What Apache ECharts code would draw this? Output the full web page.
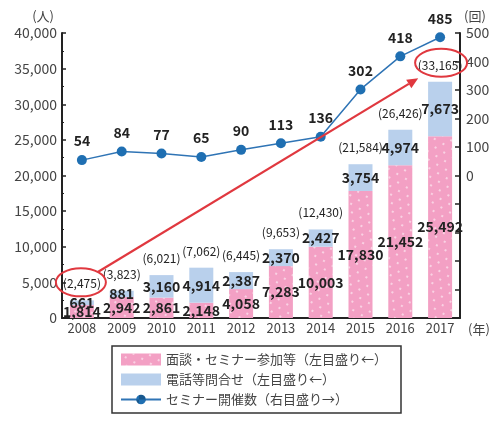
<!DOCTYPE html>
<html><head><meta charset="utf-8">
<script src="https://cdn.jsdelivr.net/npm/echarts@6/dist/echarts.min.js"></script>
<style>html,body{margin:0;padding:0;background:#fff}#c{width:500px;height:438px}</style>
</head><body><div id="c"></div>
<script>
const years = ['2008','2009','2010','2011','2012','2013','2014','2015','2016','2017'];
const interviewSeminar = [1814, 2942, 2861, 2148, 4058, 7283, 10003, 17830, 21452, 25492];
const phoneInquiry = [661, 881, 3160, 4914, 2387, 2370, 2427, 3754, 4974, 7673];
const seminarCount = [54, 84, 77, 65, 90, 113, 136, 302, 418, 485];
const totals = interviewSeminar.map((v, i) => v + phoneInquiry[i]);

const FONT = '"Noto Sans CJK JP", "Noto Sans", sans-serif';
const fmt = v => Number(v).toLocaleString('en-US');

const chart = echarts.init(document.getElementById('c'), null, {renderer: 'canvas'});
chart.setOption({
  animation: false,
  aria: {enabled: true, decal: {show: true}},
  textStyle: {fontFamily: FONT, color: '#333'},
  grid: {left: 62, right: 40, top: 33, bottom: 120, containLabel: false},
  legend: {
    data: [
      {name: '面談・セミナー参加等（左目盛り←）', icon: 'rect'},
      {name: '電話等問合せ（左目盛り←）', icon: 'rect'},
      {name: 'セミナー開催数（右目盛り→）'}
    ],
    orient: 'vertical', left: 112, top: 346,
    itemWidth: 40, itemHeight: 12, itemGap: 7,
    padding: [7, 14, 7, 8],
    borderColor: '#333', borderWidth: 1.5,
    textStyle: {fontSize: 13, color: '#444', fontFamily: FONT}
  },
  xAxis: {
    type: 'category', data: years,
    name: '(年)', nameLocation: 'end', nameGap: 8,
    nameTextStyle: {fontSize: 13, color: '#444', verticalAlign: 'top', padding: [5, 0, 0, 0]},
    axisLine: {lineStyle: {color: '#222', width: 2}},
    axisTick: {show: false},
    axisLabel: {interval: 0, fontSize: 13, color: '#444', margin: 4}
  },
  yAxis: [
    {
      type: 'value', min: 0, max: 40000, interval: 5000,
      name: '(人)', nameGap: 10,
      nameTextStyle: {fontSize: 13, color: '#444', align: 'right', padding: [0, 8, 0, 0]},
      axisLine: {show: true, lineStyle: {color: '#222', width: 2}},
      axisTick: {show: true, inside: true, length: 4, lineStyle: {color: '#222', width: 1.5}},
      minorTick: {show: true, splitNumber: 2, length: 2, lineStyle: {color: '#222'}},
      splitLine: {show: false},
      axisLabel: {fontSize: 14, color: '#444', margin: 5, formatter: v => fmt(v)}
    },
    {
      type: 'value', min: -500, max: 500, interval: 100, position: 'right',
      name: '(回)', nameGap: 10,
      nameTextStyle: {fontSize: 13, color: '#444', align: 'left', padding: [0, 0, 0, 4]},
      axisLine: {show: true, lineStyle: {color: '#222', width: 2}},
      axisTick: {show: true, inside: true, length: 5, lineStyle: {color: '#222', width: 1.5}},
      splitLine: {show: false},
      axisLabel: {fontSize: 14, color: '#444', margin: 6, formatter: v => (v >= 0 ? String(v) : '')}
    }
  ],
  series: [
    {
      name: '面談・セミナー参加等（左目盛り←）', type: 'bar', stack: 'a', yAxisIndex: 0,
      data: interviewSeminar, barWidth: 24,
      itemStyle: {
        color: '#f3a0c4',
        decal: {symbol: 'circle', symbolSize: 1, color: 'rgba(255,255,255,0.7)',
                dashArrayX: [[2, 8], [0, 5, 2, 3]], dashArrayY: [2, 5]}
      },
      label: {show: true, position: 'inside', fontSize: 14, fontWeight: 'bold', color: '#222',
              formatter: p => fmt(p.value)},
      z: 2
    },
    {
      name: '電話等問合せ（左目盛り←）', type: 'bar', stack: 'a', yAxisIndex: 0,
      data: phoneInquiry, barWidth: 24,
      itemStyle: {color: '#b9d0ec', decal: {symbol: 'none'}},
      label: {show: true, position: 'inside', fontSize: 14, fontWeight: 'bold', color: '#222',
              formatter: p => fmt(p.value)},
      z: 2
    },
    {
      name: 'totals', type: 'scatter', yAxisIndex: 0, data: totals,
      symbolSize: 1, itemStyle: {color: 'rgba(0,0,0,0)', opacity: 1, decal: {symbol: 'none'}},
      label: {show: true, position: 'top', distance: 10, fontSize: 12, color: '#222',
              formatter: p => '(' + fmt(p.value) + ')'},
      silent: true, z: 3
    },
    {
      name: 'セミナー開催数（右目盛り→）', type: 'line', yAxisIndex: 1, data: seminarCount,
      symbol: 'circle', symbolSize: 10,
      lineStyle: {color: '#2f74b5', width: 1.5},
      itemStyle: {color: '#1f6fb2'},
      label: {show: true, position: 'top', distance: 7, fontSize: 14, fontWeight: 'bold', color: '#222'},
      z: 5
    }
  ]
});

// red ellipses around first and last totals and an arrow between them
function drawHighlight() {
  const first = chart.convertToPixel({xAxisIndex: 0, yAxisIndex: 0}, [years[0], totals[0]]);
  const last = chart.convertToPixel({xAxisIndex: 0, yAxisIndex: 0}, [years[years.length - 1], totals[totals.length - 1]]);
  const c1 = [first[0] - 1, first[1] - 18];
  const c2 = [last[0] + 1, last[1] - 19];
  const rx1 = 25, ry1 = 14, rx2 = 26, ry2 = 14;
  const dx = c2[0] - c1[0], dy = c2[1] - c1[1];
  const L = Math.hypot(dx, dy), ux = dx / L, uy = dy / L;
  const s1 = 1 / Math.sqrt((ux / rx1) ** 2 + (uy / ry1) ** 2);
  const s2 = 1 / Math.sqrt((ux / rx2) ** 2 + (uy / ry2) ** 2);
  const p1 = [c1[0] + ux * s1, c1[1] + uy * s1];
  const tip = [c2[0] - ux * (s2 + 2) - 4, c2[1] - uy * (s2 + 2) + 4];
  const ax = tip[0] - p1[0], ay = tip[1] - p1[1];
  const al = Math.hypot(ax, ay), vx = ax / al, vy = ay / al;
  const hl = 11, hw = 5;
  const base = [tip[0] - vx * hl, tip[1] - vy * hl];
  const red = '#e0383f';
  chart.setOption({
    graphic: [
      {type: 'ellipse', shape: {cx: c1[0], cy: c1[1], rx: rx1, ry: ry1},
       style: {fill: 'none', stroke: red, lineWidth: 2}, z: 100},
      {type: 'ellipse', shape: {cx: c2[0], cy: c2[1], rx: rx2, ry: ry2},
       style: {fill: 'none', stroke: red, lineWidth: 2}, z: 100},
      {type: 'line', shape: {x1: p1[0], y1: p1[1], x2: base[0], y2: base[1]},
       style: {stroke: red, lineWidth: 2.2}, z: 100},
      {type: 'polygon', shape: {points: [tip,
         [base[0] - vy * hw, base[1] + vx * hw], [base[0] + vy * hw, base[1] - vx * hw]]},
       style: {fill: red}, z: 100}
    ]
  });
}
drawHighlight();
</script>
</body></html>
